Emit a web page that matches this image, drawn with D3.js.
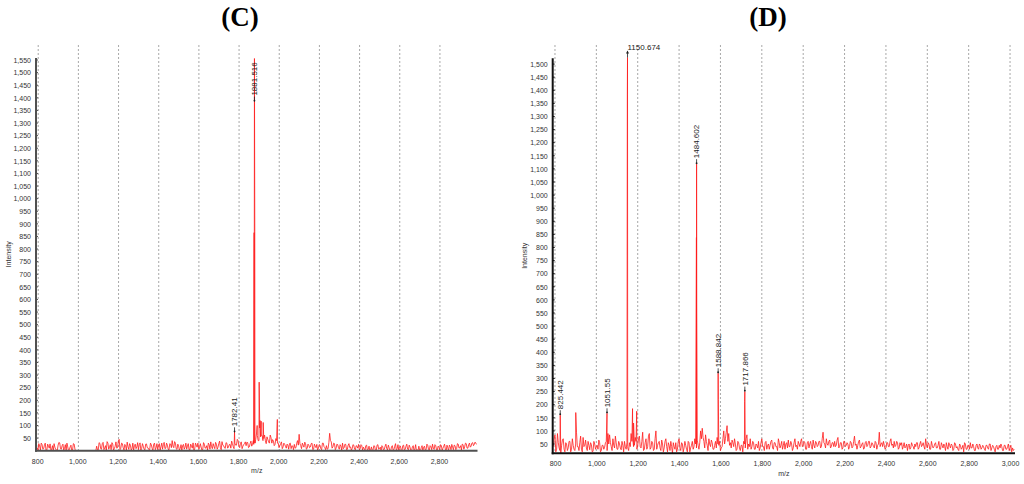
<!DOCTYPE html>
<html><head><meta charset="utf-8">
<script src="https://cdn.jsdelivr.net/npm/d3@7"></script>
<style>body{margin:0;background:#fff}svg{display:block}</style>
</head><body><svg id="chart" width="1024" height="484"></svg>
<script>
// ---------- Panel C data ----------
const cTitle = "(C)";
const cNoiseStart = 800, cNoiseStep = 8;
const cNoise = [
 12,28,3,25,8,30,2,18,27,5,
 0,14,3,22,31,6,26,9,1,15,
 4,22,3,26,0,0,0,0,0,0,
 0,0,0,0,0,0,0,18,3,29,
 6,33,10,2,30,14,4,26,8,35,
 12,45,9,28,3,20,34,5,22,7,
 2,26,15,4,31,9,18,3,27,11,
 5,24,2,30,12,4,28,16,6,33,
 10,22,3,26,40,12,30,5,18,9,
 2,25,14,6,28,3,19,31,7,22,
 30,9,15,4,26,11,2,24,35,8,
 17,33,6,28,12,36,20,9,30,14,
 25,38,16,30,22,40,12,35,18,28,
 20,32,15,38,26,30,45,60,40,55,
 60,48,40,55,35,62,30,38,25,40,
 30,20,35,15,25,10,22,28,8,18,
 25,12,40,65,20,30,14,28,9,22,
 15,30,6,18,25,10,22,4,30,12,
 20,8,69,35,15,28,10,24,6,18,
 30,12,25,5,28,15,8,22,3,18,
 25,8,20,14,3,22,6,0,15,4,
 18,2,24,8,0,16,5,26,3,12,
 0,20,4,28,8,2,18,0,22,5,
 26,3,14,0,20,6,0,0,3,12,
 0,18,4,22,2,16,26,5,20,3,
 14,24,2,18,6,22,0,16,25,4,
 20,8,26,12,3,24,15,28,10,30,
 18,32,25,28
];
const cNoiseMidStart = 804;
const cNoiseMid = [
 2,18,30,6,22,1,26,10,3,20,
 28,5,0,33,8,20,2,24,30,0,
 15,0,28,6,0,0,0,0,0,0,
 0,0,0,0,0,0,0,4,32,8,
 28,4,20,36,6,24,32,2,18,10,
 38,4,30,12,25,2,16,28,3,30,
 20,8,32,24,2,28,6,26,12,4,
 30,10,26,4,28,22,2,30,24,8,
 30,6,28,12,18,36,8,26,2,24,
 20,6,30,18,4,26,10,2,30,14,
 6,28,2,32,10,20,30,6,16,28,
 8,26,14,38,4,22,12,32,10,24,
 10,28,8,22,45,18,30,8,24,35,
 34,12,28,18,40,35,70,40,90,60,
 40,62,28,45,30,52,44,20,48,30,
 12,28,8,30,18,26,6,30,20,4,
 10,30,22,28,8,22,34,6,26,12,
 28,4,26,12,2,24,8,30,16,4,
 6,32,40,10,30,4,26,12,24,2,
 8,26,4,22,12,2,24,6,20,10,
 4,24,2,8,20,0,18,4,0,20,
 0,22,6,14,20,2,18,8,22,0,
 16,2,18,0,24,14,4,20,2,18,
 6,22,2,16,0,24,4,18,0,20,
 14,2,26,6,20,4,10,24,4,18,
 4,20,10,26,0,12,22,4,14,22,
 4,28,10,20,26,6,30,10,24,14,
 30,20,34,26
];
const cPeakMz  = [1782.41, 1878, 1879.8, 1881.516, 1883.2, 1885, 1895, 1905, 1909, 1915, 1925, 1995.5];
const cPeakInt = [75,      25,   865,    1556,     870,    30,   100,  272,  120,  117,  112,  124];
const cLabelText = ["1881.516", "1782.41"];
const cLabelMz   = [1881.516, 1782.41];
const cLabelAt   = [1385, 73];
const cXTicks = [800,1000,1200,1400,1600,1800,2000,2200,2400,2600,2800];
const cYTicks = [50,100,150,200,250,300,350,400,450,500,550,600,650,700,750,800,850,900,950,1000,1050,1100,1150,1200,1250,1300,1350,1400,1450,1500,1550];

// ---------- Panel D data ----------
const dTitle = "(D)";
const dNoiseStart = 792, dNoiseStep = 8;
const dNoise = [
 40,85,30,55,25,45,70,20,50,35,
 60,30,45,25,95,40,55,30,75,45,
 35,60,28,48,22,50,40,30,55,25,
 45,38,60,90,85,40,70,35,55,30,
 50,28,45,60,30,35,55,90,70,45,
 60,45,80,35,95,30,70,40,90,35,
 55,30,100,45,60,25,50,35,70,20,
 45,60,15,40,55,30,70,25,50,35,
 45,20,55,35,60,40,50,65,30,100,
 110,60,85,45,70,40,55,30,60,75,
 45,25,40,100,70,120,90,55,65,40,
 50,30,55,25,45,60,35,85,50,70,
 40,55,30,45,60,35,70,40,55,30,
 50,45,65,30,55,40,70,35,60,45,
 30,55,65,40,50,35,70,45,60,40,
 70,45,55,30,60,50,40,65,35,55,
 45,60,40,95,50,70,45,65,40,55,
 60,45,75,40,55,35,60,45,50,40,
 55,40,80,50,45,65,40,55,35,60,
 45,60,40,50,35,55,45,95,50,40,
 45,35,55,40,70,50,60,45,55,35,
 45,30,55,40,25,50,35,45,30,40,
 55,35,60,45,40,70,35,50,30,45,
 40,55,35,60,30,45,50,25,40,55,
 35,45,30,50,40,25,45,35,20,50,
 30,45,55,35,40,25,50,30,45,35,
 40,25,45,30,50,35,40,20,45,30,
 35,40,25,45,30,50,35,20,25
];
const dNoiseMidStart = 796;
const dNoiseMid = [
 70,20,90,35,15,65,30,55,25,60,
 20,70,30,50,40,25,80,20,40,65,
 25,45,55,20,60,30,45,65,20,45,
 30,55,25,50,55,25,45,80,30,60,
 35,60,20,40,55,25,40,60,40,75,
 30,70,40,60,25,55,30,80,30,60,
 25,70,30,55,35,65,20,60,40,55,
 25,40,55,30,20,60,35,55,20,60,
 30,60,20,45,30,70,35,45,55,70,
 75,35,60,25,50,65,30,45,35,50,
 60,35,70,50,95,60,45,35,55,70,
 25,60,35,45,20,50,70,30,40,30,
 60,30,50,35,25,55,40,25,60,45,
 30,60,35,55,40,25,55,45,30,60,
 50,35,40,60,25,55,40,30,50,60,
 40,60,30,55,35,60,30,45,60,40,
 60,35,70,55,35,50,60,35,55,40,
 40,65,35,55,30,60,40,55,30,60,
 35,60,45,30,60,35,50,30,55,40,
 60,35,55,40,60,30,50,40,55,60,
 30,55,40,60,45,35,40,60,30,55,
 55,40,35,50,45,30,55,40,50,55,
 30,50,40,55,30,45,55,30,60,35,
 50,35,45,30,55,35,40,55,30,45,
 50,25,55,35,30,50,30,45,55,30,
 45,30,35,50,25,45,35,50,30,45,
 30,45,35,50,25,45,30,40,30,45,
 50,25,45,30,40,25,45,35,30
];
const dPeakMz  = [825.442, 900.5, 1051.55, 1149.8, 1150.674, 1151.6, 1175, 1180, 1195, 1483.9, 1484.602, 1485.4, 1588.842, 1589.6, 1716.8, 1717.866];
const dPeakInt = [160,     170,   167,     1385,   1525,     40,     185,  130,  175,  838,    1118,     585,    320,      220,    213,    250];
const dLabelText = ["825.442", "1051.55", "1150.674", "1484.602", "1588.842", "1717.866"];
const dLabelMz   = [825.442, 1051.55, 1150.674, 1484.602, 1588.842, 1717.866];
const dLabelAt   = [160, 167, 1525, 1118, 320, 250];
const dLabelFlat = [false, false, true, false, false, false];
const dXTicks = [800,1000,1200,1400,1600,1800,2000,2200,2400,2600,2800,3000];
const dYTicks = [50,100,150,200,250,300,350,400,450,500,550,600,650,700,750,800,850,900,950,1000,1050,1100,1150,1200,1250,1300,1350,1400,1450,1500];

const yLabel = "Intensity", xLabel = "m/z";

// ---------- drawing ----------
const svg = d3.select("#chart");
svg.append("rect").attr("width",1024).attr("height",484).attr("fill","#fff");
const fmt = d3.format(",");
const FONT = "Liberation Sans, Arial, sans-serif";

function points(start, step, noise, midStart, mid, pmz, pint) {
  const pts = noise.map((v,i) => [start + i*step, v]);
  mid.forEach((v,i) => pts.push([midStart + i*step, v]));
  pmz.forEach((m,i) => pts.push([m, pint[i]]));
  pts.sort((a,b) => a[0]-b[0]);
  return pts;
}

function drawPanel(cfg, id) {
  const x = d3.scaleLinear().domain(cfg.xDomain).range(cfg.xRange);
  const y = d3.scaleLinear().domain(cfg.yDomain).range(cfg.yRange);
  const g = svg.append("g");
  const left = cfg.xRange[0], right = cfg.xRange[1], bottom = cfg.yRange[0], top = cfg.yRange[1];

  svg.append("text").attr("x", cfg.titleX).attr("y", 26).attr("text-anchor","middle")
    .attr("font-family","Liberation Serif, Times New Roman, serif").attr("font-weight","bold")
    .attr("font-size", 27).attr("fill","#000").text(cfg.title);

  g.selectAll("line.grid").data(cfg.xTicks).join("line")
    .attr("x1", d => x(d) + cfg.gridOff).attr("x2", d => x(d) + cfg.gridOff)
    .attr("y1", 45).attr("y2", bottom)
    .attr("stroke","#a8a8a8").attr("stroke-width",1).attr("stroke-dasharray","2,2");

  svg.append("clipPath").attr("id","clip"+id).append("rect")
    .attr("x", left).attr("y", 40).attr("width", right-left).attr("height", bottom-40);

  const line = d3.line().x(d => x(d[0])).y(d => y(Math.max(d[1], cfg.yDomain[0]-5)));
  g.append("path").datum(cfg.pts).attr("clip-path","url(#clip"+id+")")
    .attr("d", line).attr("fill","none").attr("stroke","#ff1a1a").attr("stroke-width",0.8)
    .attr("stroke-linejoin","miter");

  const ya = d3.axisLeft(y).tickValues(cfg.yTicks).tickFormat(fmt).tickSize(0).tickPadding(5);
  const yg = g.append("g").attr("transform",`translate(${left},0)`).call(ya);
  yg.select(".domain").remove();
  yg.selectAll("text").attr("font-family",FONT).attr("font-size",7).attr("fill","#333");
  g.selectAll("line.yt").data(cfg.yTicks).join("line")
    .attr("x1", left).attr("x2", left+2).attr("y1", d=>y(d)).attr("y2", d=>y(d))
    .attr("stroke", cfg.axisColor).attr("stroke-width",1);
  g.append("line").attr("x1",left).attr("x2",left).attr("y1",top).attr("y2",bottom+1)
    .attr("stroke",cfg.axisColor).attr("stroke-width",2);

  const xa = d3.axisBottom(x).tickValues(cfg.xTicks).tickFormat(fmt).tickSize(0).tickPadding(cfg.xPad);
  const xg = g.append("g").attr("transform",`translate(0,${bottom})`).call(xa);
  xg.select(".domain").remove();
  xg.selectAll("text").attr("font-family",FONT).attr("font-size",7).attr("fill","#333");
  g.append("line").attr("x1",left-1).attr("x2",right).attr("y1",bottom).attr("y2",bottom)
    .attr("stroke",cfg.axisColor).attr("stroke-width",2);

  g.append("text").attr("transform",`translate(${cfg.yTitleX},${(top+bottom)/2}) rotate(-90)`)
    .attr("text-anchor","middle").attr("dy","0.35em").attr("font-family",FONT).attr("font-size",7)
    .attr("fill","#333").text(yLabel);
  g.append("text").attr("x",(left+right)/2).attr("y",cfg.xTitleY).attr("text-anchor","middle")
    .attr("dy","0.35em").attr("font-family",FONT).attr("font-size",7).attr("fill","#333").text(xLabel);

  cfg.labels.forEach(l => {
    const px = x(l.mz), py = y(l.at);
    const lg = g.append("g").attr("transform",`translate(${px},${py})`);
    if (l.flat) {
      lg.append("line").attr("x1",0).attr("x2",0).attr("y1",0).attr("y2",-6).attr("stroke","#222").attr("stroke-width",0.8);
      lg.append("path").attr("d","M-1.5,-4 L0,-7 L1.5,-4Z").attr("fill","#222");
      lg.append("text").attr("x",0).attr("y",-8).attr("font-family",FONT).attr("font-size",8)
        .attr("fill","#222").text(l.text);
    } else {
      lg.append("line").attr("x1",0).attr("x2",0).attr("y1",0).attr("y2",-5).attr("stroke","#222").attr("stroke-width",0.8);
      lg.append("circle").attr("cx",0).attr("cy",-1).attr("r",0.9).attr("fill","#222");
      lg.append("text").attr("transform","translate(0,-6) rotate(-90)").attr("dy","0.35em")
        .attr("font-family",FONT).attr("font-size",8).attr("fill","#222").text(l.text);
    }
  });
}

drawPanel({
  title: cTitle, titleX: 240,
  xDomain: [794, 2992], xRange: [36, 477.5],
  yDomain: [0, 1558], yRange: [450.7, 58],
  xTicks: cXTicks, yTicks: cYTicks, gridOff: 1,
  axisColor: "#505050", xPad: 8, yTitleX: 9, xTitleY: 471,
  pts: points(cNoiseStart, cNoiseStep, cNoise, cNoiseMidStart, cNoiseMid, cPeakMz, cPeakInt),
  labels: cLabelText.map((t,i) => ({text:t, mz:cLabelMz[i], at:cLabelAt[i], flat:false}))
}, "C");

drawPanel({
  title: dTitle, titleX: 768,
  xDomain: [789, 3024], xRange: [552.7, 1015],
  yDomain: [14.5, 1522], yRange: [453.3, 58.3],
  xTicks: dXTicks, yTicks: dYTicks, gridOff: 0,
  axisColor: "#111", xPad: 8, yTitleX: 525, xTitleY: 474,
  pts: points(dNoiseStart, dNoiseStep, dNoise, dNoiseMidStart, dNoiseMid, dPeakMz, dPeakInt),
  labels: dLabelText.map((t,i) => ({text:t, mz:dLabelMz[i], at:dLabelAt[i], flat:dLabelFlat[i]}))
}, "D");
</script></body></html>
